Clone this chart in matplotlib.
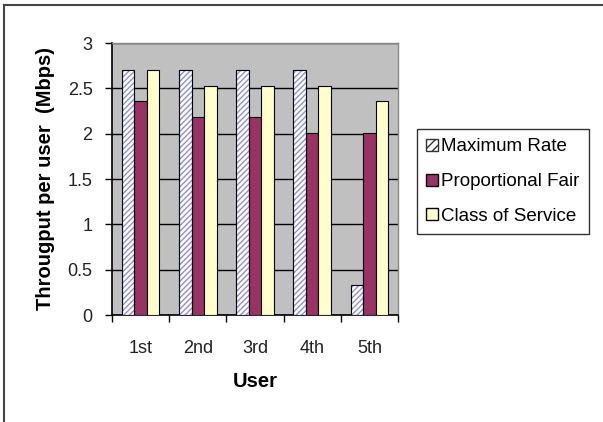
import matplotlib
matplotlib.use("Agg")
import matplotlib.pyplot as plt
import numpy as np
from matplotlib.lines import Line2D
from matplotlib.patches import Patch

plt.rcParams['font.family'] = ['Liberation Sans', 'DejaVu Sans']
plt.rcParams['hatch.linewidth'] = 1.0

users = ["1st", "2nd", "3rd", "4th", "5th"]
max_rate = [2.7, 2.7, 2.7, 2.7, 0.33]
prop_fair = [2.36, 2.18, 2.18, 2.01, 2.01]
class_service = [2.7, 2.53, 2.53, 2.53, 2.36]
series_names = ["Maximum Rate", "Proportional Fair", "Class of Service"]
yticks = [0, 0.5, 1, 1.5, 2, 2.5, 3]
ytick_labels = ["0", "0.5", "1", "1.5", "2", "2.5", "3"]

W, H = 603, 422
fig = plt.figure(figsize=(W / 100, H / 100), dpi=100)
fig.patch.set_facecolor('white')

# outer frame lines
fig.add_artist(Line2D([4 / W, 4 / W], [0, 1 - 5 / H], color='#444444', lw=1.5))
fig.add_artist(Line2D([4 / W, 1], [1 - 5 / H, 1 - 5 / H], color='#444444', lw=1.5))

ax = fig.add_axes([112 / W, 1 - 315 / H, (398 - 112) / W, (315 - 43) / H])
ax.set_facecolor('#c0c0c0')

x = np.arange(len(users))
bw = 0.22
ax.bar(x - bw, max_rate, bw, color='white', edgecolor='#8f8fd8', linewidth=0.8,
       hatch='//////', zorder=3)
ax.bar(x - bw, max_rate, bw, facecolor='none', edgecolor='black', linewidth=0.8, zorder=4)
ax.bar(x, prop_fair, bw, color='#993366', edgecolor='black', linewidth=0.8, zorder=3)
ax.bar(x + bw, class_service, bw, color='#ffffcc', edgecolor='black', linewidth=0.8, zorder=3)

ax.set_xlim(-0.5, len(users) - 0.5)
ax.set_ylim(0, 3)
ax.set_yticks(yticks)
ax.set_yticklabels(ytick_labels, fontsize=13, color='#222222')
ax.yaxis.grid(True, color='black', linewidth=1.0, zorder=1)
ax.set_axisbelow(True)

ax.set_xticks(x)
ax.set_xticklabels(users, fontsize=13, color='#222222')
ax.tick_params(axis='x', length=0, pad=18)
ax.set_xticks(np.arange(-0.5, len(users), 1.0), minor=True)
ax.tick_params(axis='x', which='minor', length=5, width=1, direction='out')
ax.tick_params(axis='y', length=5, width=1, direction='out', pad=9)

for s in ['top', 'right']:
    ax.spines[s].set_color('#888888')
    ax.spines[s].set_linewidth(1.0)
for s in ['left', 'bottom']:
    ax.spines[s].set_color('black')
    ax.spines[s].set_linewidth(1.2)

ax.set_xlabel("User", fontsize=14.5, fontweight='bold', labelpad=11)
ax.set_ylabel("Througput per user  (Mbps)", fontsize=14.5, fontweight='bold', labelpad=9)

handles = [Patch(facecolor='white', edgecolor='#333333', hatch='////'),
           Patch(facecolor='#993366', edgecolor='black'),
           Patch(facecolor='#ffffcc', edgecolor='black')]
leg = fig.legend(handles, series_names, loc='upper left',
                 bbox_to_anchor=(417 / W, 1 - 129 / H), fontsize=13.5,
                 frameon=True, fancybox=False, edgecolor='black',
                 handlelength=0.6, handleheight=0.6, handletextpad=0.2,
                 labelspacing=0.95, borderpad=0.5, borderaxespad=0)
leg.get_frame().set_linewidth(1.0)

fig.savefig("out.png", dpi=100)
